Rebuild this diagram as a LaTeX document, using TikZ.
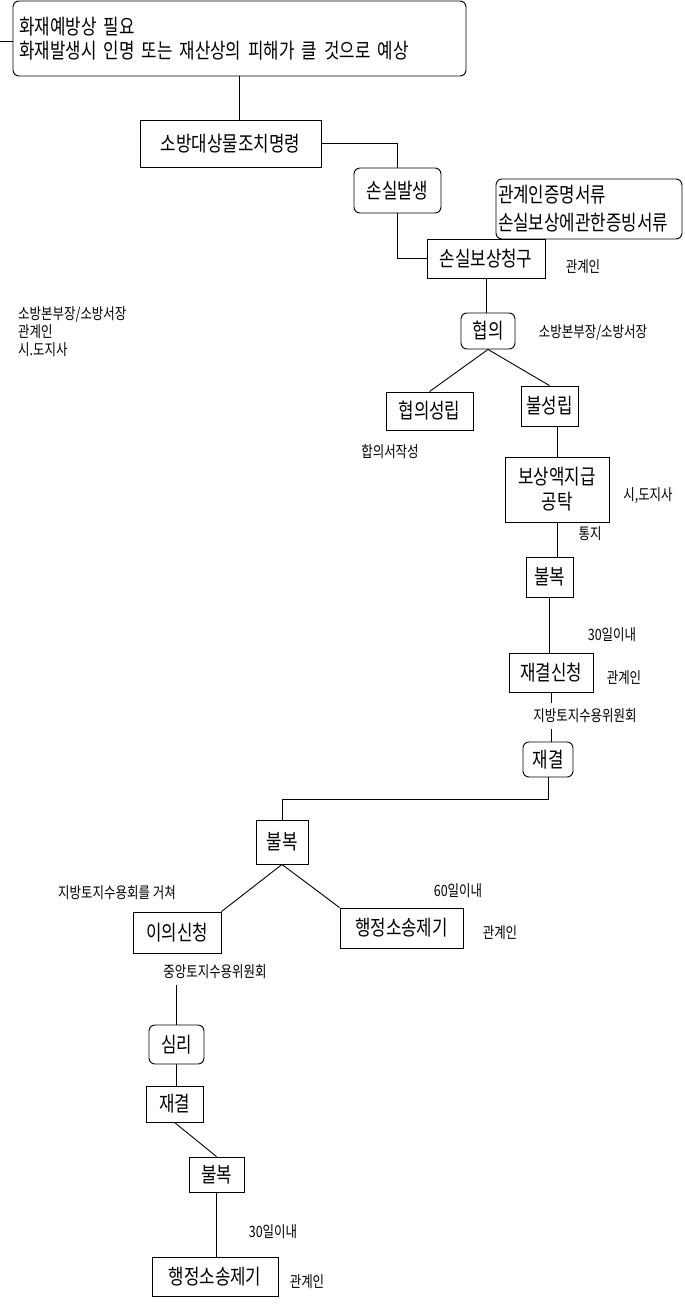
\documentclass[tikz,border=0pt]{standalone}
\usepackage{fontspec}
\usepackage{tikz}
\usetikzlibrary{positioning}
\setmainfont{Noto Sans CJK KR}[FakeStretch=0.8]
\newcommand{\boxfont}{\fontsize{21}{24}\selectfont}
\newcommand{\notefont}{\fontsize{15.6}{18}\selectfont}

\begin{document}
\begin{tikzpicture}[
    x=1pt, y=-1pt,
    conn/.style={line width=0.9pt},
    box/.style={rectangle,draw,line width=0.9pt,inner sep=0pt,align=center,font=\boxfont},
    rbox/.style={box,rounded corners=6pt},
    note/.style={inner sep=0pt,align=center,font=\notefont},
    cover/.style={note,inner ysep=6pt}
  ]
    \useasboundingbox (0,0) rectangle (685,1306);
    % boxes
    \node[rbox,minimum width=453pt,minimum height=75pt,text width=440pt,align=left,
      font={\boxfont\spaceskip=10.8pt\relax}] (cause) at (239.5,38.5)
      {화재예방상 필요\\화재발생시 인명 또는 재산상의 피해가 클 것으로 예상};
    \node[box,minimum width=181pt,minimum height=47pt] (order) at (230.5,143.5) {소방대상물조치명령};
    \node[rbox,minimum width=87pt,minimum height=45pt] (loss) at (397.5,190.5) {손실발생};
    \node[rbox,minimum width=186pt,minimum height=60pt,text width=182pt,align=left,
      font={\fontsize{21}{28}\selectfont}] (docs) at (589,209) {관계인증명서류\\손실보상에관한증빙서류};
    \node[box,minimum width=118pt,minimum height=39pt] (claim) at (486,258.5) {손실보상청구};
    \node[rbox,minimum width=54pt,minimum height=36pt] (talk) at (488,331) {협의};
    \node[box,minimum width=87pt,minimum height=38pt] (agree) at (429.5,411) {협의성립};
    \node[box,minimum width=57pt,minimum height=40pt] (fail) at (549.5,406) {불성립};
    \node[box,minimum width=104pt,minimum height=65pt,font={\fontsize{21}{25}\selectfont}]
      (pay) at (557,489.5) {보상액지급\\공탁};
    \node[box,minimum width=47pt,minimum height=40pt] (object) at (549.5,577) {불복};
    \node[box,minimum width=84pt,minimum height=39pt] (request) at (551,672.5) {재결신청};
    \node[rbox,minimum width=50pt,minimum height=35pt] (ruling) at (548,759.5) {재결};
    \node[box,minimum width=52pt,minimum height=44pt] (object2) at (282,842) {불복};
    \node[box,minimum width=88pt,minimum height=41pt] (appeal) at (177,932.5) {이의신청};
    \node[box,minimum width=123pt,minimum height=40pt] (suit) at (401.5,928) {행정소송제기};
    \node[rbox,minimum width=55pt,minimum height=39pt] (review) at (176.5,1044.5) {심리};
    \node[box,minimum width=57pt,minimum height=36pt] (ruling2) at (174.5,1104) {재결};
    \node[box,minimum width=55pt,minimum height=35pt] (object3) at (216.5,1174.5) {불복};
    \node[box,minimum width=126pt,minimum height=39pt] (suit2) at (215,1276.5) {행정소송제기};
    % notes
    \node[note,anchor=west,align=left] (nlegend) at (18,332) {소방본부장/소방서장\\관계인\\시.도지사};
    \node[note] (nclaim) at (583,267) {관계인};
    \node[note] (nchief) at (593,332) {소방본부장/소방서장};
    \node[note] (ndraft) at (390,452) {합의서작성};
    \node[note] (ngov) at (648,496) {시,도지사};
    \node[note] (nnotice) at (590,534) {통지};
    \node[note] (ndays) at (612,635) {30일이내};
    \node[note] (nreq) at (624,678) {관계인};
    \node[cover] (nlocal) at (585,716) {지방토지수용위원회};
    \node[note] (ndays2) at (458,891) {60일이내};
    \node[note] (nsuit) at (500,933) {관계인};
    \node[note] (nvia) at (117,893) {지방토지수용회를 거쳐};
    \node[cover,inner ysep=6pt] (ncentral) at (215,972) {중앙토지수용위원회};
    \node[note] (ndays3) at (273,1232) {30일이내};
    \node[note] (nsuit2) at (307,1282) {관계인};
    % connectors
    \coordinate (stub) at (0,41);
    \draw[conn] (stub) -- (stub -| cause.west);
    \draw[conn] (cause.south) -- (cause.south |- order.north);
    \draw[conn] (order.east) -| (loss.north);
    \draw[conn] (loss.south) |- (claim.west);
    \draw[conn] (claim.south) -- (claim.south |- talk.north);
    \draw[conn] (talk.south) -- (agree.north);
    \draw[conn] (talk.south) -- (fail.north);
    \draw[conn] (fail.south -| pay.north) -- (pay.north);
    \draw[conn] (pay.south) -- (pay.south |- object.north);
    \draw[conn] (object.south) -- (object.south |- request.north);
    \draw[conn] (request.south) -- (request.south |- nlocal.north);
    \draw[conn] (request.south |- nlocal.south) -- (request.south |- ruling.north);
    \draw[conn] (ruling.south) -- ++(0,22) -| (object2.north);
    \draw[conn] (object2.south) -- (appeal.north east);
    \draw[conn] (object2.south) -- (suit.north west);
    \draw[conn] (ncentral.south -| review.north) -- (review.north);
    \draw[conn] (review.south) -- (review.south |- ruling2.north);
    \draw[conn] (ruling2.south) -- (object3.north);
    \draw[conn] (object3.south) -- (object3.south |- suit2.north);
\end{tikzpicture}
\end{document}
